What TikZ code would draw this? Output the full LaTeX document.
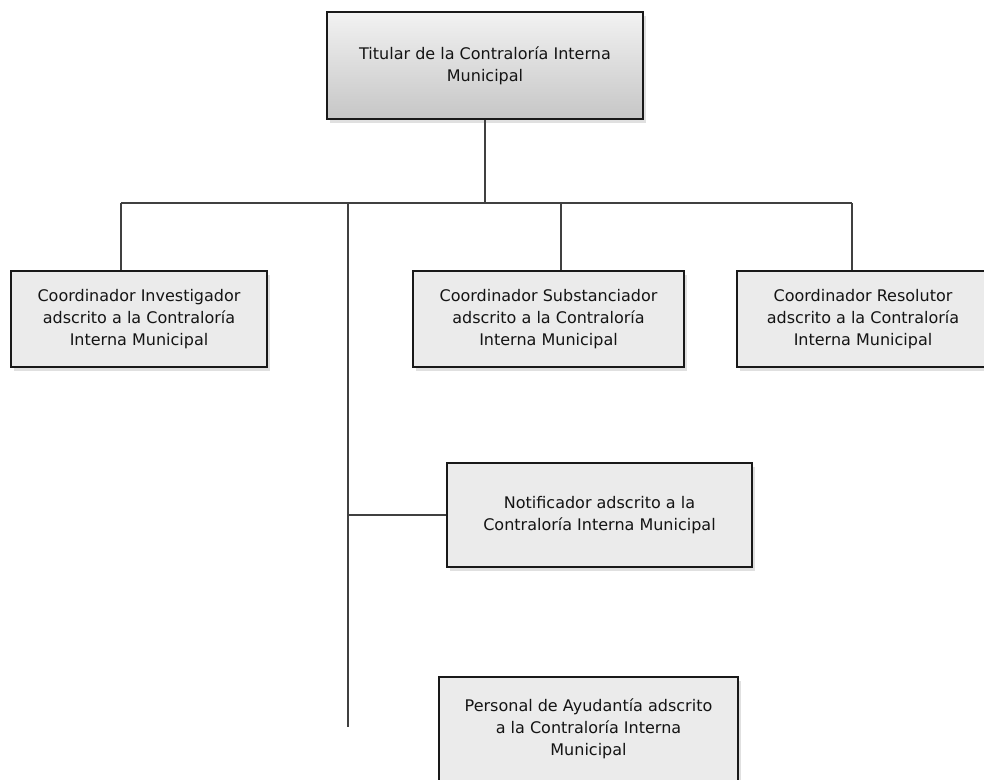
\documentclass[tikz,border=0pt]{standalone}
\usepackage{fontspec}
\setmainfont{DejaVu Sans}
\usetikzlibrary{shadows}
\definecolor{boxfill}{HTML}{EBEBEB}
\definecolor{gtop}{HTML}{F2F2F2}
\definecolor{gbot}{HTML}{C6C6C6}
\definecolor{linec}{HTML}{404040}
\tikzset{
  unitbox/.style={draw=black!90, line width=1.1bp, fill=boxfill, align=center,
    inner sep=0pt, font=\fontsize{16bp}{22bp}\selectfont, text=black!92,
    drop shadow={shadow xshift=3bp, shadow yshift=-4bp, fill=black!12, opacity=1},
    drop shadow={shadow xshift=1.2bp, shadow yshift=-1.4bp, fill=black!70, opacity=1}},
  topbox/.style={unitbox, top color=gtop, bottom color=gbot},
  conn/.style={draw=linec, line width=1.1bp}
}
\begin{document}
\begin{tikzpicture}[x=1bp,y=-1bp]
\useasboundingbox (0,0) rectangle (984,780);
\node[topbox, minimum width=316bp, minimum height=107bp] (tit) at (485,65.5)
  {Titular de la Contraloría Interna\\Municipal};
\node[unitbox, minimum width=256bp, minimum height=96bp] (inv) at (139,319)
  {Coordinador Investigador\\adscrito a la Contraloría\\Interna Municipal};
\node[unitbox, minimum width=271bp, minimum height=96bp] (sub) at (548.5,319)
  {Coordinador Substanciador\\adscrito a la Contraloría\\Interna Municipal};
\node[unitbox, minimum width=252bp, minimum height=96bp] (res) at (863,319)
  {Coordinador Resolutor\\adscrito a la Contraloría\\Interna Municipal};
\node[unitbox, minimum width=305bp, minimum height=104bp] (not) at (599.5,515)
  {Notificador adscrito a la\\Contraloría Interna Municipal};
\node[unitbox, minimum width=299bp, minimum height=104bp] (per) at (588.5,729)
  {Personal de Ayudantía adscrito\\a la Contraloría Interna\\Municipal};
\coordinate (hub) at (485,203);
\coordinate (hl) at (121,203);
\coordinate (hs) at (561,203);
\coordinate (hr) at (852,203);
\coordinate (tr) at (348,203);
\coordinate (trn) at (348,515);
\coordinate (tre) at (348,727);
\draw[conn] (tit.south) -- (hub);
\draw[conn] (hl) -- (hr);
\draw[conn] (hl) -- (hl |- inv.north);
\draw[conn] (hs) -- (hs |- sub.north);
\draw[conn] (hr) -- (hr |- res.north);
\draw[conn] (tr) -- (tre);
\draw[conn] (trn) -- (not.west);
\end{tikzpicture}
\end{document}
